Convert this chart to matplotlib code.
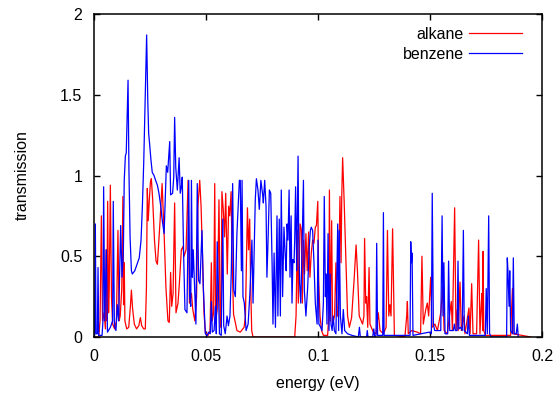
import matplotlib
matplotlib.use("Agg")
import matplotlib.pyplot as plt
from matplotlib.ticker import FuncFormatter

# transmission spectra
alkane_energy = [
    0.0, 0.0021, 0.0027, 0.0033, 0.0038, 0.0045, 0.0051, 0.0054, 0.0057, 0.0061,
    0.0065, 0.0068, 0.0073, 0.0078, 0.0083, 0.0092, 0.0100, 0.0107, 0.0112, 0.0117,
    0.0124, 0.0129, 0.0132, 0.0135, 0.0138, 0.0146, 0.0155, 0.0162, 0.0167, 0.0172,
    0.0180, 0.0190, 0.0200, 0.0207, 0.0213, 0.0222, 0.0229, 0.0234, 0.0238, 0.0242,
    0.0247, 0.0252, 0.0256, 0.0262, 0.0270, 0.0277, 0.0283, 0.0295, 0.0304, 0.0308,
    0.0313, 0.0321, 0.0330, 0.0336, 0.0342, 0.0347, 0.0353, 0.0360, 0.0366, 0.0375,
    0.0381, 0.0390, 0.0397, 0.0402, 0.0411, 0.0420, 0.0426, 0.0435, 0.0441, 0.0450,
    0.0458, 0.0464, 0.0472, 0.0478, 0.0484, 0.0491, 0.0497, 0.0509, 0.0518, 0.0524,
    0.0528, 0.0534, 0.0539, 0.0543, 0.0550, 0.0558, 0.0563, 0.0567, 0.0571, 0.0577,
    0.0583, 0.0588, 0.0595, 0.0601, 0.0606, 0.0612, 0.0618, 0.0623, 0.0631, 0.0638,
    0.0653, 0.0670, 0.0676, 0.0685, 0.0690, 0.0695, 0.0699, 0.0704, 0.0710, 0.0896,
    0.0902, 0.0908, 0.0912, 0.0920, 0.0926, 0.0930, 0.0935, 0.0940, 0.0946, 0.0952,
    0.0958, 0.0964, 0.0970, 0.0976, 0.0982, 0.0988, 0.0993, 0.0999, 0.1003, 0.1009,
    0.1016, 0.1024, 0.1043, 0.1048, 0.1051, 0.1055, 0.1061, 0.1065, 0.1074, 0.1080,
    0.1085, 0.1090, 0.1098, 0.1103, 0.1106, 0.1110, 0.1117, 0.1125, 0.1132, 0.1140,
    0.1150, 0.1161, 0.1170, 0.1176, 0.1184, 0.1199, 0.1205, 0.1208, 0.1213, 0.1217,
    0.1222, 0.1228, 0.1232, 0.1247, 0.1259, 0.1269, 0.1277, 0.1292, 0.1304, 0.1310,
    0.1316, 0.1321, 0.1326, 0.1333, 0.1341, 0.1388, 0.1396, 0.1399, 0.1403, 0.1418,
    0.1443, 0.1458, 0.1464, 0.1470, 0.1481, 0.1488, 0.1494, 0.1503, 0.1509, 0.1522,
    0.1533, 0.1548, 0.1557, 0.1563, 0.1577, 0.1595, 0.1600, 0.1610, 0.1616, 0.1622,
    0.1626, 0.1634, 0.1640, 0.1652, 0.1656, 0.1674, 0.1679, 0.1686, 0.1692, 0.1708,
    0.1717, 0.1723, 0.1729, 0.1732, 0.1735, 0.1737, 0.1740, 0.1747, 0.1860, 0.1863,
    0.1868, 0.1871, 0.1950]
alkane_trans = [
    0.0, 0.0, 0.10, 0.75, 0.10, 0.15, 0.05, 0.54, 0.10, 0.84,
    0.15, 0.30, 0.94, 0.25, 0.08, 0.05, 0.10, 0.66, 0.10, 0.13,
    0.30, 0.87, 0.20, 0.46, 0.10, 0.05, 0.06, 0.18, 0.29, 0.18,
    0.08, 0.05, 0.07, 0.12, 0.07, 0.05, 0.05, 0.30, 0.92, 0.72,
    0.85, 0.96, 0.98, 0.85, 0.60, 0.47, 0.45, 0.72, 0.95, 0.81,
    0.64, 0.31, 0.10, 0.09, 0.40, 0.19, 0.27, 0.83, 0.15, 0.21,
    0.33, 0.54, 0.56, 0.50, 0.54, 0.97, 0.21, 0.27, 0.17, 0.10,
    0.25, 0.81, 0.97, 0.81, 0.52, 0.15, 0.03, 0.01, 0.04, 0.46,
    0.10, 0.15, 0.95, 0.10, 0.17, 0.85, 0.10, 0.06, 0.90, 0.79,
    0.62, 0.89, 0.39, 0.81, 0.75, 0.90, 0.39, 0.14, 0.09, 0.04,
    0.03, 0.06, 0.13, 0.80, 0.54, 0.73, 0.35, 0.04, 0.0, 0.0,
    0.13, 0.66, 0.21, 0.70, 0.66, 0.21, 0.60, 0.39, 0.64, 0.41,
    0.65, 0.37, 0.52, 0.60, 0.58, 0.68, 0.69, 0.84, 0.35, 0.13,
    0.04, 0.01, 0.01, 0.13, 0.91, 0.10, 0.72, 0.08, 0.13, 0.46,
    0.13, 0.13, 0.87, 0.46, 0.87, 1.11, 0.83, 0.46, 0.13, 0.06,
    0.12, 0.35, 0.57, 0.41, 0.13, 0.08, 0.13, 0.61, 0.21, 0.25,
    0.06, 0.43, 0.08, 0.03, 0.02, 0.15, 0.04, 0.02, 0.06, 0.66,
    0.13, 0.20, 0.13, 0.67, 0.01, 0.0, 0.13, 0.22, 0.02, 0.04,
    0.03, 0.02, 0.50, 0.08, 0.17, 0.21, 0.13, 0.37, 0.06, 0.08,
    0.04, 0.15, 0.31, 0.04, 0.02, 0.22, 0.04, 0.80, 0.04, 0.17,
    0.04, 0.34, 0.04, 0.13, 0.02, 0.18, 0.02, 0.33, 0.02, 0.02,
    0.60, 0.02, 0.21, 0.27, 0.04, 0.53, 0.04, 0.01, 0.01, 0.13,
    0.30, 0.02, 0.0]

benzene_energy = [
    0.0, 0.0003, 0.0006, 0.0009, 0.0015, 0.0018, 0.0021, 0.0036, 0.0040, 0.0043,
    0.0048, 0.0055, 0.0060, 0.0073, 0.0083, 0.0086, 0.0091, 0.0098, 0.0104, 0.0110,
    0.0119, 0.0125, 0.0131, 0.0135, 0.0140, 0.0144, 0.0152, 0.0156, 0.0161, 0.0167,
    0.0171, 0.0182, 0.0192, 0.0202, 0.0210, 0.0216, 0.0222, 0.0228, 0.0235, 0.0240,
    0.0244, 0.0248, 0.0254, 0.0260, 0.0268, 0.0275, 0.0283, 0.0290, 0.0298, 0.0305,
    0.0313, 0.0318, 0.0323, 0.0329, 0.0338, 0.0342, 0.0351, 0.0356, 0.0360, 0.0365,
    0.0372, 0.0380, 0.0385, 0.0390, 0.0394, 0.0400, 0.0406, 0.0415, 0.0423, 0.0427,
    0.0432, 0.0435, 0.0439, 0.0443, 0.0449, 0.0455, 0.0461, 0.0467, 0.0473, 0.0482,
    0.0488, 0.0497, 0.0506, 0.0512, 0.0519, 0.0524, 0.0528, 0.0536, 0.0542, 0.0546,
    0.0550, 0.0555, 0.0560, 0.0568, 0.0571, 0.0575, 0.0579, 0.0586, 0.0594, 0.0600,
    0.0607, 0.0613, 0.0619, 0.0624, 0.0631, 0.0638, 0.0649, 0.0653, 0.0658, 0.0661,
    0.0665, 0.0671, 0.0679, 0.0688, 0.0696, 0.0702, 0.0705, 0.0710, 0.0716, 0.0720,
    0.0725, 0.0732, 0.0738, 0.0745, 0.0753, 0.0756, 0.0762, 0.0768, 0.0772, 0.0777,
    0.0783, 0.0789, 0.0795, 0.0799, 0.0804, 0.0810, 0.0817, 0.0821, 0.0827, 0.0832,
    0.0836, 0.0842, 0.0848, 0.0854, 0.0858, 0.0862, 0.0866, 0.0871, 0.0875, 0.0880,
    0.0884, 0.0888, 0.0893, 0.0896, 0.0900, 0.0905, 0.0911, 0.0914, 0.0918, 0.0923,
    0.0929, 0.0935, 0.0939, 0.0946, 0.0954, 0.0961, 0.0966, 0.0970, 0.0976, 0.0982,
    0.0988, 0.0996, 0.1000, 0.1004, 0.1012, 0.1018, 0.1024, 0.1028, 0.1033, 0.1036,
    0.1040, 0.1045, 0.1049, 0.1054, 0.1058, 0.1063, 0.1068, 0.1073, 0.1080, 0.1088,
    0.1092, 0.1095, 0.1100, 0.1107, 0.1113, 0.1119, 0.1132, 0.1152, 0.1180, 0.1185,
    0.1189, 0.1217, 0.1220, 0.1223, 0.1244, 0.1249, 0.1253, 0.1259, 0.1262, 0.1266,
    0.1289, 0.1292, 0.1295, 0.1411, 0.1414, 0.1417, 0.1420, 0.1424, 0.1496, 0.1506,
    0.1510, 0.1515, 0.1521, 0.1548, 0.1554, 0.1558, 0.1562, 0.1567, 0.1579, 0.1583,
    0.1588, 0.1604, 0.1609, 0.1613, 0.1621, 0.1625, 0.1629, 0.1637, 0.1644, 0.1649,
    0.1653, 0.1667, 0.1671, 0.1676, 0.1747, 0.1751, 0.1756, 0.1762, 0.1766, 0.1774,
    0.1842, 0.1845, 0.1848, 0.1853, 0.1856, 0.1860, 0.1868, 0.1872, 0.1876, 0.1885,
    0.1890, 0.1894]
benzene_trans = [
    0.0, 0.02, 0.70, 0.02, 0.02, 0.43, 0.01, 0.01, 0.10, 0.93,
    0.10, 0.54, 0.03, 0.06, 0.10, 0.84, 0.07, 0.04, 0.20, 0.10,
    0.69, 0.37, 0.52, 0.97, 1.12, 1.14, 1.59, 1.03, 0.62, 0.41,
    0.39, 0.41, 0.45, 0.49, 0.60, 0.81, 1.08, 1.45, 1.87, 1.47,
    1.26, 1.20, 1.10, 1.02, 1.00, 0.97, 0.94, 0.89, 0.81, 0.72,
    0.64, 0.85, 1.06, 1.02, 1.21, 0.88, 0.89, 0.99, 1.36, 1.05,
    0.91, 1.11, 0.89, 0.93, 0.99, 0.52, 0.17, 0.15, 0.97, 0.25,
    0.19, 0.97, 0.37, 0.54, 0.31, 0.08, 0.95, 0.35, 0.33, 0.66,
    0.31, 0.02, 0.01, 0.03, 0.02, 0.22, 0.03, 0.04, 0.19, 0.02,
    0.59, 0.33, 0.02, 0.01, 0.30, 0.73, 0.07, 0.02, 0.13, 0.07,
    0.13, 0.41, 0.95, 0.29, 0.25, 0.64, 0.97, 0.97, 0.41, 0.97,
    0.25, 0.21, 0.04, 0.08, 0.27, 0.50, 0.60, 0.21, 0.60, 0.85,
    0.98, 0.91, 0.79, 0.97, 0.88, 0.83, 0.97, 0.81, 0.37, 0.60,
    0.91, 0.89, 0.46, 0.08, 0.52, 0.06, 0.75, 0.13, 0.73, 0.13,
    0.91, 0.25, 0.68, 0.50, 0.41, 0.70, 0.60, 0.91, 0.37, 0.75,
    0.21, 0.48, 0.46, 0.60, 0.93, 0.41, 1.12, 0.60, 0.33, 0.21,
    0.56, 0.97, 0.29, 0.13, 0.31, 0.56, 0.66, 0.68, 0.66, 0.46,
    0.21, 0.08, 0.60, 0.08, 0.06, 0.04, 0.21, 0.87, 0.25, 0.39,
    0.08, 0.64, 0.04, 0.39, 0.08, 0.04, 0.13, 0.04, 0.02, 0.70,
    0.04, 0.66, 0.13, 0.02, 0.17, 0.04, 0.02, 0.01, 0.0, 0.06,
    0.0, 0.0, 0.04, 0.0, 0.0, 0.05, 0.0, 0.01, 0.58, 0.01,
    0.01, 0.77, 0.01, 0.01, 0.59, 0.46, 0.52, 0.01, 0.03, 0.02,
    0.89, 0.08, 0.04, 0.04, 0.75, 0.13, 0.46, 0.02, 0.02, 0.47,
    0.04, 0.04, 0.08, 0.04, 0.04, 0.47, 0.05, 0.06, 0.04, 0.66,
    0.04, 0.02, 0.13, 0.01, 0.01, 0.30, 0.02, 0.75, 0.02, 0.0,
    0.0, 0.49, 0.41, 0.19, 0.41, 0.04, 0.02, 0.49, 0.02, 0.02,
    0.08, 0.0]

plt.rcParams['font.family'] = ['Liberation Sans', 'DejaVu Sans']
plt.rcParams['font.size'] = 11.5

fig = plt.figure(figsize=(5.59, 3.96), dpi=100)
ax = fig.add_axes([94 / 559, 59 / 396, 448 / 559, 323 / 396])

ax.plot(alkane_energy, alkane_trans, color='#ff0000', lw=0.9, label='alkane')
ax.plot(benzene_energy, benzene_trans, color='#0000ff', lw=0.9, label='benzene')

ax.set_xlim(0, 0.2)
ax.set_ylim(0, 2)
ax.set_xticks([0, 0.05, 0.1, 0.15, 0.2])
ax.set_yticks([0, 0.5, 1, 1.5, 2])
fmt = FuncFormatter(lambda v, p: '%g' % v)
ax.xaxis.set_major_formatter(fmt)
ax.yaxis.set_major_formatter(fmt)
ax.tick_params(direction='in', length=4.5, width=1, top=True, right=True,
               pad=8.5, colors='black')
for s in ax.spines.values():
    s.set_linewidth(1.1)

ax.set_xlabel('energy (eV)', labelpad=9)
ax.set_ylabel('transmission', labelpad=22)

ax.legend(loc='upper right', frameon=False, markerfirst=False,
          handlelength=3.3, handletextpad=0.35, labelspacing=0.3,
          borderaxespad=0, bbox_to_anchor=(0.97, 0.98))

fig.savefig('out.png', dpi=100)
